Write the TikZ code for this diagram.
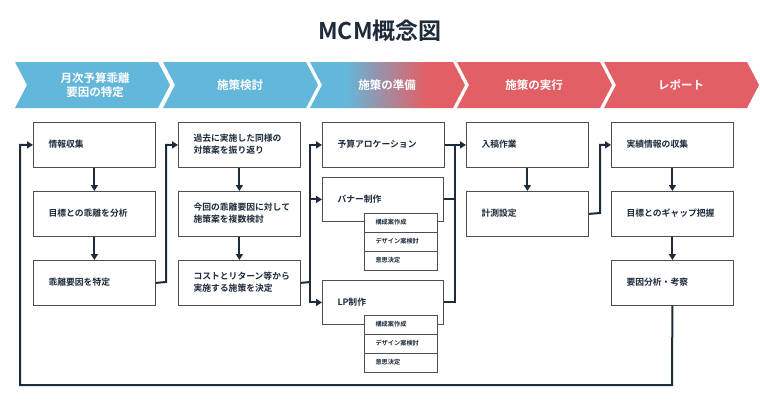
\documentclass[tikz,border=0pt]{standalone}
\usepackage{fontspec}
\setmainfont{Noto Sans CJK JP}[BoldFont={* Bold}]
\usetikzlibrary{arrows.meta}
\definecolor{cblue}{HTML}{63B7DB}
\definecolor{cred}{HTML}{E35F66}
\definecolor{navy}{HTML}{1D2B3B}
\definecolor{bgray}{HTML}{4A4F55}
\begin{document}
\begin{tikzpicture}[x=1pt,y=-1pt,
  box/.style={draw=bgray,line width=0.8pt,fill=white,minimum width=122pt,minimum height=45pt,anchor=north west,inner sep=0pt},
  txt/.style={anchor=west,font=\bfseries\fontsize{8.8}{11.5}\selectfont,align=left,text=navy},
  sub/.style={draw=bgray,line width=0.8pt,fill=white,minimum width=73pt,minimum height=19pt,anchor=north west,inner sep=0pt},
  subt/.style={anchor=west,font=\bfseries\fontsize{6.2}{7}\selectfont,text=navy},
  con/.style={draw=navy,line width=2pt},
  arr/.style={con,-{Triangle[length=6pt,width=7pt]}},
  ban/.style={font=\bfseries\fontsize{11.5}{13.5}\selectfont,text=white,align=center}]
\useasboundingbox (0,0) rectangle (760,400);
\node[font=\bfseries\fontsize{23}{26}\selectfont,text=navy] (title) at (380,31) {MCM概念図};
% banner
\def\chev#1{(#1,62) -- ++(143,0) -- ++(12,23) -- ++(-12,23) -- ++(-143,0) -- ++(12,-23) -- cycle}
\fill[cblue] \chev{15};
\fill[cblue] \chev{163};
\begin{scope}
\clip \chev{310};
\fill[cblue] (300,60) rectangle (346,110);
\shade[left color=cblue,right color=cred] (345,60) rectangle (426,110);
\fill[cred] (425,60) rectangle (470,110);
\end{scope}
\fill[cred] \chev{457};
\fill[cred] \chev{604};
\node[ban] (b1) at (95,85) {月次予算乖離\\要因の特定};
\node[ban] (b2) at (240,85) {施策検討};
\node[ban] (b3) at (387,85) {施策の準備};
\node[ban] (b4) at (534,85) {施策の実行};
\node[ban] (b5) at (681,85) {レポート};
% column 1
\node[box] (a1) at (33,122) {}; \node[txt] at (45,144) {情報収集};
\node[box] (a2) at (33,191) {}; \node[txt] at (45,213) {目標との乖離を分析};
\node[box] (a3) at (33,260) {}; \node[txt] at (45,282) {乖離要因を特定};
% column 2
\node[box] (c1) at (178,122) {}; \node[txt] at (190,144) {過去に実施した同様の\\対策案を振り返り};
\node[box] (c2) at (178,191) {}; \node[txt] at (190,213) {今回の乖離要因に対して\\施策案を複数検討};
\node[box] (c3) at (178,260) {}; \node[txt] at (190,282) {コストとリターン等から\\実施する施策を決定};
% column 3
\node[box] (d1) at (322,122) {}; \node[txt] at (334,144) {予算アロケーション};
\node[box,minimum width=121pt,minimum height=44pt] (d2) at (322,177) {}; \node[txt] at (334,199) {バナー制作};
\node[sub] (s1) at (364,213) {}; \node[subt] at (372,222.5) {構成案作成};
\node[sub] (s2) at (364,232) {}; \node[subt] at (372,241.5) {デザイン案検討};
\node[sub] (s3) at (364,251) {}; \node[subt] at (372,260.5) {意思決定};
\node[box,minimum width=121pt,minimum height=44pt] (d3) at (322,280) {}; \node[txt] at (334,302) {LP制作};
\node[sub] (t1) at (364,315) {}; \node[subt] at (372,324.5) {構成案作成};
\node[sub] (t2) at (364,334) {}; \node[subt] at (372,343.5) {デザイン案検討};
\node[sub] (t3) at (364,353) {}; \node[subt] at (372,362.5) {意思決定};
% column 4
\node[box] (e1) at (466,122) {}; \node[txt] at (478,144) {入稿作業};
\node[box] (e2) at (466,191) {}; \node[txt] at (478,213) {計測設定};
% column 5
\node[box] (f1) at (611,122) {}; \node[txt] at (623,144) {実績情報の収集};
\node[box] (f2) at (611,191) {}; \node[txt] at (623,213) {目標とのギャップ把握};
\node[box] (f3) at (611,260) {}; \node[txt] at (623,282) {要因分析・考察};
% connectors
\coordinate (j1) at (166,282); \coordinate (j2) at (310,282);
\coordinate (j3) at (455,144); \coordinate (j4) at (600,213);
\coordinate (fb1) at (672,385); \coordinate (fb2) at (20,385);
\draw[arr] (a1) -- (a2); \draw[arr] (a2) -- (a3);
\draw[arr] (c1) -- (c2); \draw[arr] (c2) -- (c3);
\draw[arr] (e1) -- (e2);
\draw[arr] (f1) -- (f2); \draw[arr] (f2) -- (f3);
\draw[arr] (a3.east) -- (j1) |- (c1.west);
\draw[con] (c3.east) -- (j2);
\draw[arr] (j2) |- (d1.west);
\draw[arr] (j2) |- (d2.west);
\draw[arr] (j2) |- (d3.west);
\draw[con] (d2.east) -| (j3);
\draw[con] (d3.east) -| (j3);
\draw[arr] (d1.east) -- (e1.west);
\draw[arr] (e2.east) -- (j4) |- (f1.west);
\draw[arr] (f3.south) -- (fb1) -- (fb2) |- (a1.west);
\end{tikzpicture}
\end{document}
